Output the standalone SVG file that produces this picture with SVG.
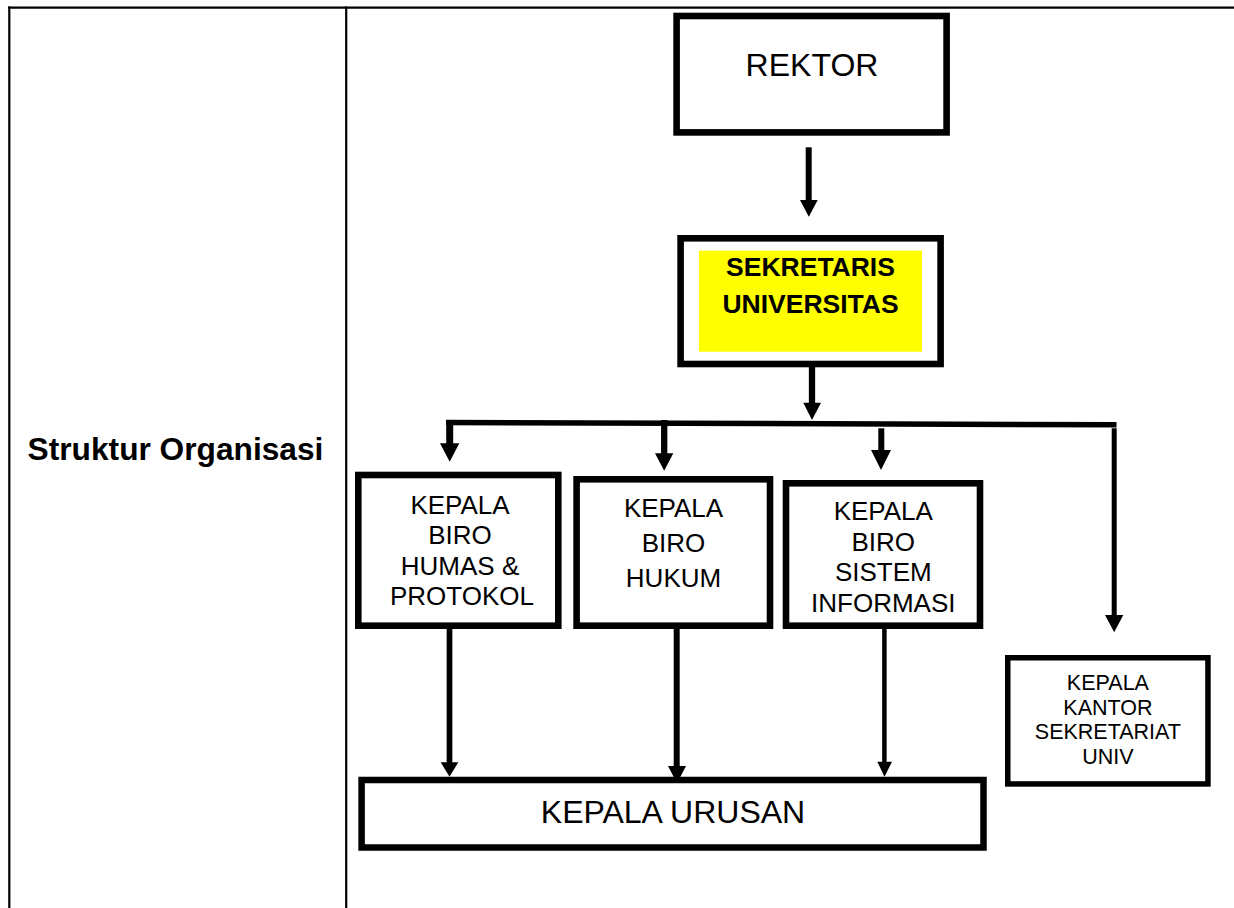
<svg xmlns="http://www.w3.org/2000/svg" width="1234" height="908" viewBox="0 0 1234 908">
<style>
.box{fill:#fff;stroke:#000;stroke-width:6.6}
.t{font-family:"Liberation Sans",Arial,sans-serif;fill:#000;text-anchor:middle}
.b{font-weight:bold}
.frame{stroke:#000;stroke-width:2.2;fill:none}
.sh{stroke:#000;fill:none}
.hd{fill:#000}
</style>
<rect width="1234" height="908" fill="#fff"/>
<g id="table">
<line class="frame" x1="8" y1="7.7" x2="1234" y2="7.7"/>
<line class="frame" x1="9.3" y1="6.6" x2="9.3" y2="908"/>
<line class="frame" x1="346.2" y1="6.6" x2="346.2" y2="908"/>
<text class="t b" x="175.5" y="460" font-size="31.7">Struktur Organisasi</text>
</g>
<g id="connectors">
<line class="sh" x1="808.7" y1="147.3" x2="808.7" y2="201" stroke-width="6"/>
<polygon class="hd" points="800,200 817.7,200 808.8,216.7"/>
<line class="sh" x1="812" y1="366" x2="812" y2="403.5" stroke-width="6.3"/>
<polygon class="hd" points="803.3,402.7 821,402.7 812,420"/>
<line class="sh" x1="446" y1="422.5" x2="1116.5" y2="424.8" stroke-width="5.5"/>
<line class="sh" x1="449.7" y1="420" x2="449.7" y2="444.5" stroke-width="7"/>
<polygon class="hd" points="440,443.3 459.3,443.3 449.7,461.7"/>
<line class="sh" x1="664.2" y1="420" x2="664.2" y2="454" stroke-width="6.3"/>
<polygon class="hd" points="655,453.3 673.3,453.3 664.2,470.7"/>
<line class="sh" x1="881.3" y1="428.3" x2="881.3" y2="451" stroke-width="6"/>
<polygon class="hd" points="871,450 891,450 881,470"/>
<line class="sh" x1="1114.2" y1="428.3" x2="1114.2" y2="616" stroke-width="5"/>
<polygon class="hd" points="1105,615 1123.3,615 1114.2,632.3"/>
<line class="sh" x1="449.5" y1="628" x2="449.5" y2="763" stroke-width="5.7"/>
<polygon class="hd" points="440.7,762.3 458.3,762.3 449.5,776.7"/>
<line class="sh" x1="676.7" y1="628" x2="676.7" y2="767" stroke-width="6"/>
<polygon class="hd" points="668,766 686,766 677,783.3"/>
<line class="sh" x1="884.4" y1="628" x2="884.4" y2="762.5" stroke-width="4.5"/>
<polygon class="hd" points="877.3,761.7 892,761.7 884.5,776.7"/>
</g>
<g id="rektor">
<rect class="box" x="676.6" y="16" width="270" height="116.4"/>
<text class="t" x="812" y="75.5" font-size="32">REKTOR</text>
</g>
<g id="sekretaris">
<rect class="box" x="680.6" y="238.3" width="260" height="125.7"/>
<rect x="699" y="250.7" width="223" height="101" fill="#ffff00"/>
<text class="t b" x="810.5" y="275.5" font-size="26.5">SEKRETARIS</text>
<text class="t b" x="810.5" y="312.5" font-size="26.5">UNIVERSITAS</text>
</g>
<g id="humas">
<rect class="box" x="358.3" y="475" width="200" height="150.7"/>
<text class="t" x="460" y="513.5" font-size="26">KEPALA</text>
<text class="t" x="460" y="544" font-size="26">BIRO</text>
<text class="t" x="460" y="574.5" font-size="26">HUMAS &amp;</text>
<text class="t" x="462" y="605" font-size="26">PROTOKOL</text>
</g>
<g id="hukum">
<rect class="box" x="576.6" y="479.3" width="193.4" height="146.4"/>
<text class="t" x="673.5" y="516.7" font-size="26">KEPALA</text>
<text class="t" x="673.5" y="551.7" font-size="26">BIRO</text>
<text class="t" x="673.5" y="587" font-size="26">HUKUM</text>
</g>
<g id="sistem">
<rect class="box" x="786" y="483.3" width="194" height="142.4"/>
<text class="t" x="883.3" y="520" font-size="26">KEPALA</text>
<text class="t" x="883.3" y="550.5" font-size="26">BIRO</text>
<text class="t" x="883.3" y="581" font-size="26">SISTEM</text>
<text class="t" x="883.3" y="611.5" font-size="26">INFORMASI</text>
</g>
<g id="kantor">
<rect class="box" x="1007.75" y="657.75" width="200.2" height="126.2" style="stroke-width:5.5"/>
<text class="t" x="1107.9" y="690" font-size="21.5">KEPALA</text>
<text class="t" x="1107.9" y="714.5" font-size="21.5">KANTOR</text>
<text class="t" x="1107.9" y="739" font-size="21.5">SEKRETARIAT</text>
<text class="t" x="1107.9" y="763.5" font-size="21.5">UNIV</text>
</g>
<g id="urusan">
<rect class="box" x="361.6" y="780" width="621.9" height="67.5" style="stroke-width:6.5"/>
<text class="t" x="673" y="823" font-size="32">KEPALA URUSAN</text>
</g>
</svg>
